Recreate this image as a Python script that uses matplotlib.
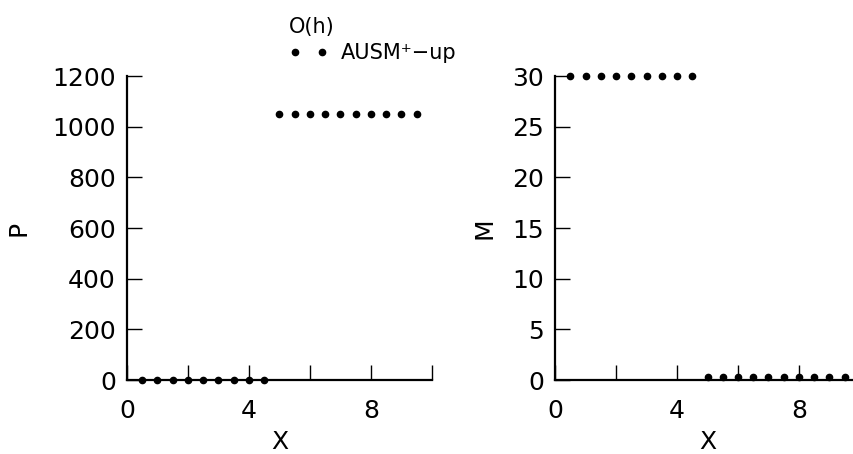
import matplotlib
matplotlib.use("Agg")
import matplotlib.pyplot as plt
from matplotlib.lines import Line2D

plt.rcParams['font.family'] = ['DejaVu Sans']

x_left = [0.5, 1.0, 1.5, 2.0, 2.5, 3.0, 3.5, 4.0, 4.5]
x_right = [5.0, 5.5, 6.0, 6.5, 7.0, 7.5, 8.0, 8.5, 9.0, 9.5]
x = x_left + x_right
P = [1] * 9 + [1050] * 10
M = [30] * 9 + [0.33] * 10

legend_title = "O(h)"
legend_label = "AUSM\u207a\u2212up"

fig = plt.figure(figsize=(8.54, 4.54), dpi=100)
fs = 18

def style(ax, ylim, yticks):
    ax.set_xlim(0, 10)
    ax.set_ylim(*ylim)
    for s in ['top', 'right']:
        ax.spines[s].set_visible(False)
    for s in ['left', 'bottom']:
        ax.spines[s].set_linewidth(1.6)
        ax.spines[s].set_color('black')
    ax.set_xticks([0, 4, 8])
    ax.set_xticks([2, 6, 10], minor=True)
    ax.set_yticks(yticks)
    ax.tick_params(axis='both', which='both', direction='in', length=11,
                   width=1.0, labelsize=fs)
    ax.tick_params(axis='y', pad=8)
    ax.tick_params(axis='x', which='both', pad=14)
    ax.tick_params(axis='y', which='minor', left=False)
    ax.set_xlabel('X', fontsize=fs, labelpad=5)

ax1 = fig.add_axes([127/854, 74/454, 305/854, 304/454])
ax1.plot(x, P, 'o', color='black', markersize=4.5, clip_on=False, zorder=5)
style(ax1, (0, 1200), list(range(0, 1201, 200)))
ax1.set_ylabel('P', fontsize=fs)
ax1.yaxis.set_label_coords(-96/305, 0.5)

ax2 = fig.add_axes([555/854, 74/454, 305/854, 304/454])
ax2.plot(x, M, 'o', color='black', markersize=4.5, clip_on=False, zorder=5)
style(ax2, (0, 30), list(range(0, 31, 5)))
ax2.set_ylabel('M', fontsize=fs)
ax2.yaxis.set_label_coords(-58/305, 0.5)

h = Line2D([], [], marker='o', linestyle='none', color='black', markersize=4.5)
leg = fig.legend([h], [legend_label], title=legend_title, loc='upper left',
                 bbox_to_anchor=(272/854, 1 - 0/454), numpoints=2,
                 frameon=False, fontsize=15, title_fontsize=15,
                 handlelength=1.9, handletextpad=0.6, borderpad=0.3,
                 labelspacing=0.3)
leg._legend_box.align = 'left'

fig.savefig('out.png', dpi=100)
